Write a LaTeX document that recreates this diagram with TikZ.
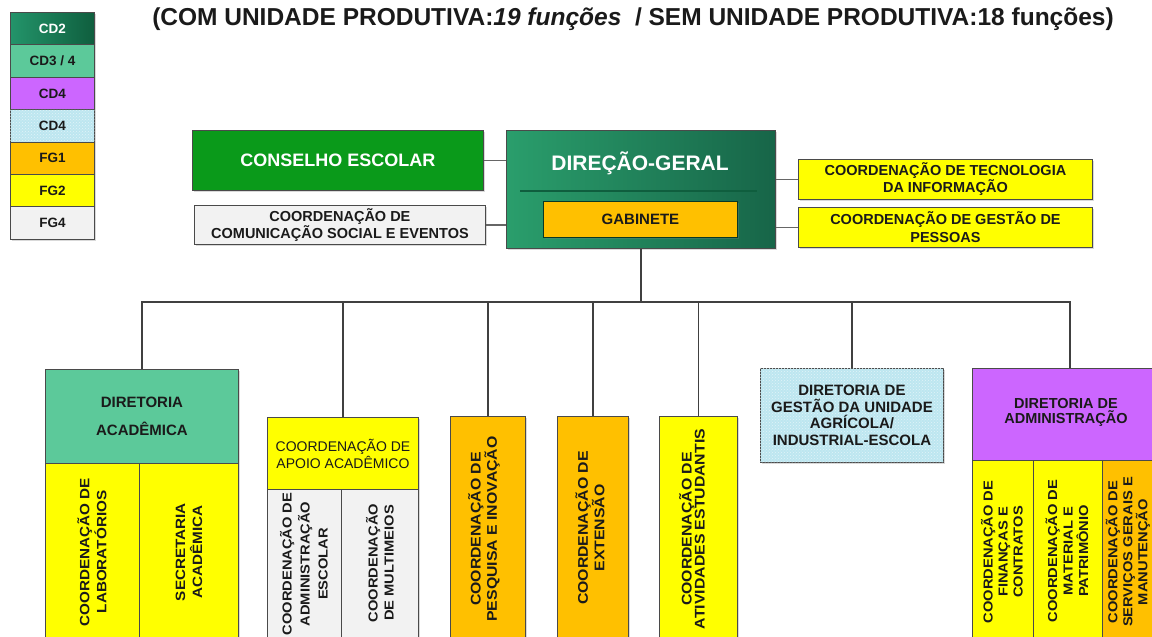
\documentclass[tikz,border=0pt]{standalone}
\usepackage{fontspec}
\setmainfont{Liberation Sans}
\newfontfamily\tallfont[FakeStretch=1.13]{Liberation Sans}
\usetikzlibrary{shadows,patterns}
\definecolor{cdtwoA}{HTML}{23946A}
\definecolor{cdtwoB}{HTML}{0F5E3E}
\definecolor{mint}{HTML}{5CC99A}
\definecolor{purp}{HTML}{CC66FF}
\definecolor{aqua}{HTML}{BDE6F0}
\definecolor{fgone}{HTML}{FFC000}
\definecolor{fgtwo}{HTML}{FFFF00}
\definecolor{fgfour}{HTML}{F2F2F2}
\definecolor{consel}{HTML}{0A9A1A}
\definecolor{dgA}{HTML}{2A9E6C}
\definecolor{dgB}{HTML}{176548}
\definecolor{edge}{HTML}{4A4A4A}
\definecolor{ink}{HTML}{1A1A1A}
\definecolor{conn}{HTML}{404040}
\begin{document}
\begin{tikzpicture}[x=1pt,y=-1pt,
  bx/.style={draw=edge, line width=0.9pt, inner sep=0pt, anchor=north west, text=ink, align=center,
    drop shadow={shadow xshift=1.5pt, shadow yshift=-1.5pt, opacity=0.3}},
  lg/.style={bx, minimum width=84pt, minimum height=32.4pt, font=\fontsize{13.5}{14}\selectfont\bfseries},
  vt/.style={rotate=90, align=center, text=ink, inner sep=0pt},
  cn/.style={draw=conn, line width=1.8pt},
  sc/.style={draw=conn!80, line width=1.3pt},
  cyanfill/.style={fill=aqua, postaction={pattern=crosshatch dots, pattern color=white!55!aqua}}
]
\useasboundingbox (0,0) rectangle (1152,637);
\clip (0,0) rectangle (1152,637);

% legend
\node[lg, left color=cdtwoA, right color=cdtwoB, text=white] (l1) at (10,12) {CD2};
\node[lg, fill=mint] (l2) at (10,44.4) {CD3 / 4};
\node[lg, fill=purp] (l3) at (10,76.8) {CD4};
\node[lg, cyanfill] (l4) at (10,109.2) {CD4};
\node[lg, fill=fgone] (l5) at (10,141.6) {FG1};
\node[lg, fill=fgtwo] (l6) at (10,174) {FG2};
\node[lg, fill=fgfour] (l7) at (10,206.4) {FG4};

% title
\node[font=\fontsize{24.5}{26}\selectfont\bfseries, text=ink, inner sep=0pt] (title) at (633,19)
  {(COM UNIDADE PRODUTIVA:\textit{19 funções}\ \ / SEM UNIDADE PRODUTIVA:18 funções)};

% top level
\node[bx, fill=consel, text=white, minimum width=291pt, minimum height=60pt,
  font=\fontsize{18}{20}\selectfont\bfseries] (cons) at (192,130) {CONSELHO ESCOLAR};
\node[bx, fill=fgfour, minimum width=291pt, minimum height=39pt,
  font=\fontsize{14.5}{15}\selectfont\bfseries] (com) at (194,205) {COORDENAÇÃO DE\\COMUNICAÇÃO SOCIAL E EVENTOS};
\node[bx, left color=dgA, right color=dgB, minimum width=269pt, minimum height=118pt] (dg) at (506,130) {};
\node[text=white, font=\fontsize{21}{22}\selectfont\bfseries, inner sep=0pt] (dgt) at (640,163) {DIREÇÃO-GERAL};
\coordinate (dl1) at (520,191);
\coordinate (dl2) at (757,191);
\draw[draw=cdtwoB, line width=1.5pt] (dl1) -- (dl2);
\node[bx, fill=fgone, draw=cdtwoB!60!black, minimum width=194pt, minimum height=36pt,
  font=\fontsize{15}{16}\selectfont\bfseries] (gab) at (543,201) {GABINETE};
\node[bx, fill=fgtwo, minimum width=294pt, minimum height=40pt,
  font=\fontsize{14.5}{17}\selectfont\bfseries] (ti) at (798,159) {COORDENAÇÃO DE TECNOLOGIA\\DA INFORMAÇÃO};
\node[bx, fill=fgtwo, minimum width=294pt, minimum height=40pt,
  font=\fontsize{14.5}{18}\selectfont\bfseries] (gp) at (798,207) {COORDENAÇÃO DE GESTÃO DE\\PESSOAS};

\draw[sc] (cons.east) -- (cons.east -| dg.west);
\draw[sc] (com.east) -- (com.east -| dg.west);
\draw[sc] (ti.west) -- (ti.west -| dg.east);
\draw[sc] (gp.west) -- (gp.west -| dg.east);

% second level boxes
\node[bx, fill=mint, minimum width=193pt, minimum height=94pt,
  font=\fontsize{15}{28}\selectfont\bfseries] (da) at (45,369) {DIRETORIA\\ACADÊMICA};
\node[bx, fill=fgtwo, minimum width=94pt, minimum height=180pt] (da1) at (45,463) {};
\node[bx, fill=fgtwo, minimum width=99pt, minimum height=180pt] (da2) at (139,463) {};

\node[bx, fill=fgtwo, minimum width=151pt, minimum height=72pt,
  font=\fontsize{14}{17}\selectfont] (ap) at (267,417) {COORDENAÇÃO DE\\APOIO ACADÊMICO};
\node[bx, fill=fgfour, minimum width=74pt, minimum height=160pt] (ap1) at (267,489) {};
\node[bx, fill=fgfour, minimum width=77pt, minimum height=160pt] (ap2) at (341,489) {};

\node[bx, fill=fgone, minimum width=75pt, minimum height=230pt] (pq) at (450,416) {};
\node[bx, fill=fgone, minimum width=71pt, minimum height=230pt] (ex) at (557,416) {};
\node[bx, fill=fgtwo, minimum width=78pt, minimum height=230pt] (at) at (659,416) {};

\node[bx, cyanfill, minimum width=183pt, minimum height=94pt,
  font=\fontsize{15}{16.5}\selectfont\bfseries] (un) at (760,368) {DIRETORIA DE\\GESTÃO DA UNIDADE\\AGRÍCOLA/\\INDUSTRIAL-ESCOLA};

\node[bx, fill=purp, minimum width=196pt, minimum height=92pt] (adm) at (972,368) {};
\node[font=\fontsize{14.5}{15}\selectfont\bfseries, text=ink, align=center, inner sep=0pt] (admt) at (1066,412) {DIRETORIA DE\\ADMINISTRAÇÃO};
\node[bx, fill=fgtwo, minimum width=61pt, minimum height=180pt] (ad1) at (972,460) {};
\node[bx, fill=fgtwo, minimum width=69pt, minimum height=180pt] (ad2) at (1033,460) {};
\node[bx, fill=fgone, minimum width=66pt, minimum height=180pt] (ad3) at (1102,460) {};

% vertical texts
\node[vt, font=\tallfont\fontsize{13.5}{17}\selectfont\bfseries] (t1) at (92,552) {COORDENAÇÃO DE\\LABORATÓRIOS};
\node[vt, font=\tallfont\fontsize{13.5}{17}\selectfont\bfseries] (t2) at (189,552) {SECRETARIA\\ACADÊMICA};
\node[vt, font=\tallfont\fontsize{13}{18}\selectfont\bfseries] (t3) at (304,564) {COORDENAÇÃO DE\\ADMINISTRAÇÃO\\ESCOLAR};
\node[vt, font=\tallfont\fontsize{13}{16}\selectfont\bfseries] (t4) at (380,563) {COORDENAÇÃO\\DE MULTIMEIOS};
\node[vt, font=\tallfont\fontsize{14}{13}\selectfont\bfseries] (t5) at (484,529) {COORDENAÇÃO DE\\PESQUISA E INOVAÇÃO};
\node[vt, font=\tallfont\fontsize{14}{14}\selectfont\bfseries] (t6) at (590,528) {COORDENAÇÃO DE\\EXTENSÃO};
\node[vt, font=\tallfont\fontsize{14}{13}\selectfont\bfseries] (t7) at (692,529) {COORDENAÇÃO DE\\ATIVIDADES ESTUDANTIS};
\node[vt, font=\tallfont\fontsize{13}{15}\selectfont\bfseries] (t8) at (1002,552) {COORDENAÇÃO DE\\FINANÇAS E\\CONTRATOS};
\node[vt, font=\tallfont\fontsize{13}{15.5}\selectfont\bfseries] (t9) at (1067,551) {COORDENAÇÃO DE\\MATERIAL E\\PATRIMÔNIO};
\node[vt, font=\tallfont\fontsize{13}{15}\selectfont\bfseries] (t10) at (1128,552) {COORDENAÇÃO DE\\SERVIÇOS GERAIS E\\MANUTENÇÃO};

% bus
\coordinate (busL) at (141.5,302);
\coordinate (busR) at (1070,302);
\draw[cn] (dg.south) -- (dg.south |- busL);
\draw[cn, line cap=rect] (busL) -- (busR);
\draw[cn] (da.north) -- (da.north |- busL);
\draw[cn] (ap.north) -- (ap.north |- busL);
\draw[cn] (pq.north) -- (pq.north |- busL);
\draw[cn] (ex.north) -- (ex.north |- busL);
\draw[cn] (at.north) -- (at.north |- busL);
\draw[cn] (un.north) -- (un.north |- busL);
\draw[cn] (busR) -- (busR |- adm.north);
\end{tikzpicture}
\end{document}
